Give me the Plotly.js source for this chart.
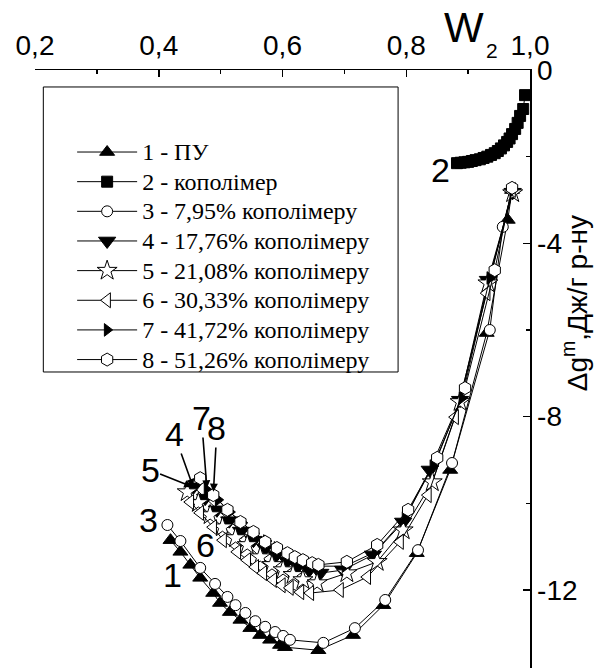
<!DOCTYPE html>
<html>
<head>
<meta charset="utf-8">
<script src="https://cdn.plot.ly/plotly-3.0.1.min.js"></script>
<style>html,body{margin:0;padding:0;background:#fff;}#chart{width:597px;height:668px;}
.legendtext{font-family:"Liberation Serif","Times New Roman",serif !important;}</style>
</head>
<body>
<div id="chart"></div>
<script>
// ---- data ----
const seriesNames = [
  "1 - ПУ",
  "2 - кополімер",
  "3 - 7,95% кополімеру",
  "4 - 17,76% кополімеру",
  "5 - 21,08% кополімеру",
  "6 - 30,33% кополімеру",
  "7 - 41,72% кополімеру",
  "8 - 51,26% кополімеру"
];
const x1 = [0.419,0.435,0.451,0.467,0.488,0.499,0.515,0.532,0.548,0.564,0.580,0.596,0.604,0.658,0.714,0.763,0.817,0.871,0.930,0.964,0.971];
const y1 = [-10.85,-11.12,-11.42,-11.72,-12.07,-12.30,-12.51,-12.69,-12.88,-13.04,-13.15,-13.27,-13.32,-13.39,-13.04,-12.35,-11.15,-9.23,-6.07,-3.46,-2.77];
const x2 = [0.882,0.888,0.894,0.900,0.906,0.912,0.919,0.925,0.931,0.937,0.943,0.948,0.953,0.958,0.963,0.967,0.971,0.976,0.980,0.984,0.989,0.992];
const y2 = [-2.15,-2.14,-2.13,-2.12,-2.10,-2.08,-2.06,-2.03,-2.00,-1.96,-1.92,-1.87,-1.81,-1.74,-1.66,-1.58,-1.48,-1.36,-1.22,-1.06,-0.90,-0.58];
const x3 = [0.414,0.435,0.467,0.491,0.511,0.524,0.540,0.556,0.572,0.588,0.601,0.612,0.666,0.717,0.766,0.819,0.874,0.935,0.956,0.971];
const y3 = [-10.50,-10.87,-11.49,-11.86,-12.16,-12.35,-12.53,-12.72,-12.85,-12.97,-13.06,-13.15,-13.22,-12.88,-12.23,-11.08,-9.07,-6.00,-3.62,-2.77];
const x4 = [0.456,0.475,0.494,0.514,0.533,0.553,0.572,0.590,0.608,0.625,0.643,0.661,0.698,0.746,0.795,0.838,0.887,0.932,0.972];
const y4 = [-9.62,-9.88,-10.15,-10.40,-10.64,-10.85,-11.03,-11.19,-11.33,-11.45,-11.54,-11.61,-11.54,-11.19,-10.43,-9.23,-7.62,-4.85,-2.82];
const x5 = [0.446,0.464,0.483,0.503,0.524,0.543,0.564,0.583,0.601,0.617,0.633,0.656,0.704,0.753,0.795,0.842,0.887,0.932,0.972];
const y5 = [-9.74,-9.99,-10.27,-10.55,-10.80,-10.96,-11.24,-11.42,-11.54,-11.65,-11.77,-11.84,-11.61,-11.35,-10.62,-9.51,-7.66,-4.92,-2.84];
const x6 = [0.451,0.467,0.488,0.504,0.527,0.543,0.556,0.569,0.585,0.599,0.612,0.629,0.645,0.693,0.737,0.790,0.835,0.879,0.930,0.971];
const y6 = [-9.97,-10.22,-10.55,-10.85,-11.12,-11.31,-11.47,-11.61,-11.77,-11.89,-11.95,-12.05,-12.07,-12.00,-11.70,-10.89,-9.81,-8.01,-5.15,-2.77];
const x7 = [0.478,0.496,0.515,0.535,0.554,0.574,0.591,0.609,0.625,0.641,0.658,0.701,0.750,0.798,0.843,0.890,0.935,0.972];
const y7 = [-9.69,-9.92,-10.20,-10.45,-10.69,-10.87,-11.03,-11.17,-11.29,-11.38,-11.45,-11.45,-11.12,-10.34,-9.14,-7.57,-4.80,-2.77];
const x8 = [0.467,0.488,0.511,0.532,0.553,0.572,0.591,0.608,0.620,0.633,0.648,0.658,0.704,0.753,0.803,0.850,0.895,0.943,0.971];
const y8 = [-9.42,-9.81,-10.15,-10.43,-10.66,-10.89,-11.03,-11.15,-11.24,-11.31,-11.38,-11.42,-11.35,-10.96,-10.15,-8.95,-7.34,-4.62,-2.72];

const xTickVals = [0.2,0.4,0.6,0.8,1.0];
const xTickText = ["0,2","0,4","0,6","0,8","1,0"];
const yTickVals = [0,-4,-8,-12];
const yTickText = ["0","-4","-8","-12"];

// curve number labels
const plainLabels = ["1","2","3","6"];
const plainLabelX = [0.422,0.855,0.383,0.475];
const plainLabelY = [-11.65,-2.31,-10.39,-10.96];
// labels with arrows: text position -> arrow tip
const arrowLabels = ["4","5","7","8"];
const arrowLabelX = [0.425,0.386,0.469,0.494];
const arrowLabelY = [-8.40,-9.23,-8.03,-8.26];
const arrowTipX  = [0.4556,0.4540,0.4778,0.4884];
const arrowTipY  = [-9.62,-9.62,-9.65,-9.73];

// ---- traces ----
const xs = [x1,x2,x3,x4,x5,x6,x7,x8];
const ys = [y1,y2,y3,y4,y5,y6,y7,y8];
const symbols = ["triangle-up","square","circle","triangle-down","star","triangle-left","triangle-right","hexagon"];
const fills = ["#000","#000","#fff","#000","#fff","#fff","#000","#fff"];
const sizes = [13,11,11,15,15,13,11,13];

const traces = xs.map((xx,i)=>({
  type:"scatter", mode:"lines+markers",
  x: xx, y: ys[i],
  name: '<span style="font-family:Liberation Serif,serif;font-size:24px">' + seriesNames[i] + '</span>',
  legendgroup: "g"+i,
  line:{color:"#000", width:1},
  marker:{symbol:symbols[i], size:sizes[i], color:fills[i], line:{color:"#000", width:1}}
}));

const numFont = {family:"Liberation Sans", size:34, color:"#000"};
const annotations = [];
plainLabels.forEach((t,i)=>{
  annotations.push({x:plainLabelX[i], y:plainLabelY[i], xref:"x", yref:"y", text:t, showarrow:false,
    xanchor:"center", yanchor:"middle", font:numFont});
});
arrowLabels.forEach((t,i)=>{
  annotations.push({x:arrowTipX[i], y:arrowTipY[i], xref:"x", yref:"y",
    ax:arrowLabelX[i], ay:arrowLabelY[i], axref:"x", ayref:"y",
    text:t, showarrow:true, arrowhead:2, arrowsize:1, arrowwidth:1.6, arrowcolor:"#000",
    borderpad:0, font:numFont});
});
annotations.push({xref:"paper", yref:"paper", x:0.8667, y:1.0719, xanchor:"center", yanchor:"middle",
  text:"W", showarrow:false, font:{family:"Liberation Sans", size:42, color:"#000"}});
annotations.push({xref:"paper", yref:"paper", x:0.9233, y:1.0318, xanchor:"center", yanchor:"middle",
  text:"2", showarrow:false, font:{family:"Liberation Sans", size:21, color:"#000"}});
annotations.push({xref:"paper", yref:"paper", x:1.091, y:0.61, xanchor:"center", yanchor:"middle",
  text:"Δg<sup>m</sup>,Дж/г р-ну", textangle:-90,
  showarrow:false, font:{family:"Liberation Sans", size:28, color:"#000"}});

const layout = {
  width:597, height:668,
  margin:{l:35, r:67, t:70, b:0, pad:0},
  paper_bgcolor:"#fff", plot_bgcolor:"#fff",
  font:{family:"Liberation Sans", color:"#000"},
  showlegend:true,
  legend:{x:0.075, y:0.896, xanchor:"left", yanchor:"top", bgcolor:"rgba(0,0,0,0)", borderwidth:0,
    font:{family:"Liberation Serif", size:20.5, color:"#000"},
    itemwidth:60, tracegroupgap:0, itemclick:false},
  xaxis:{range:[0.2,1.0], side:"top", showgrid:false, zeroline:false, showline:true, linecolor:"#000", linewidth:1.5,
    ticks:"inside", ticklen:7, tickwidth:1.5, tickcolor:"#000",
    tickvals:xTickVals, ticktext:xTickText, tickfont:{size:28, family:"Liberation Sans"},
    ticklabelstandoff:2,
    minor:{dtick:0.1, tick0:0, ticks:"inside", ticklen:4, tickwidth:1.5, tickcolor:"#000"},
    automargin:false, fixedrange:true},
  yaxis:{range:[-13.8,0], side:"right", showgrid:false, zeroline:false, showline:true, linecolor:"#000", linewidth:1.5,
    ticks:"inside", ticklen:7, tickwidth:1.5, tickcolor:"#000",
    tickvals:yTickVals, ticktext:yTickText, tickfont:{size:28, family:"Liberation Sans"},
    ticklabelstandoff:0,
    minor:{dtick:2, tick0:0, ticks:"inside", ticklen:4, tickwidth:1.5, tickcolor:"#000"},
    automargin:false, fixedrange:true},
  shapes:[{type:"rect", xref:"paper", yref:"paper", x0:0.0168, x1:0.7335, y0:0.495, y1:0.9716,
    line:{color:"#000", width:1}, fillcolor:"rgba(0,0,0,0)"}],
  annotations: annotations
};

Plotly.newPlot("chart", traces, layout, {displayModeBar:false, staticPlot:true});
</script>
</body>
</html>
